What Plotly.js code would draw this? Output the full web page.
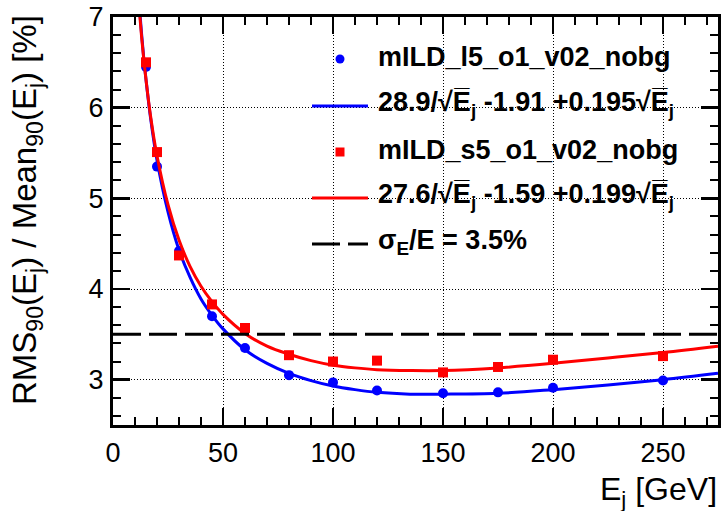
<!DOCTYPE html>
<html>
<head>
<meta charset="utf-8">
<script src="https://cdn.plot.ly/plotly-3.0.1.min.js"></script>
<style>html,body{margin:0;padding:0;background:#fff;}#chart{width:723px;height:511px;}</style>
</head>
<body>
<div id="chart"></div>
<script>
// ---- data ----
const energies = [15, 20, 30, 45, 60, 80, 100, 120, 150, 175, 200, 250];
const resL5 = [6.45, 5.35, 4.42, 3.70, 3.35, 3.05, 2.97, 2.88, 2.85, 2.86, 2.91, 2.99];
const resS5 = [6.50, 5.51, 4.37, 3.83, 3.57, 3.27, 3.20, 3.21, 3.08, 3.14, 3.22, 3.26];

const fitE = [11, 12, 13, 14, 15, 17, 20, 25, 30, 35, 40, 45, 50, 60, 70, 80, 90, 100, 110, 120, 135, 150, 175, 200, 225, 250, 275];
const fitL5 = [7.45, 7.11, 6.81, 6.54, 6.31, 5.90, 5.42, 4.85, 4.43, 4.13, 3.89, 3.71, 3.56, 3.33, 3.18, 3.07, 2.99, 2.93, 2.89, 2.86, 2.84, 2.84, 2.85, 2.89, 2.94, 3.00, 3.07];
const fitS5 = [7.39, 7.07, 6.78, 6.53, 6.31, 5.92, 5.47, 4.93, 4.54, 4.25, 4.03, 3.86, 3.72, 3.51, 3.37, 3.28, 3.21, 3.16, 3.13, 3.11, 3.10, 3.10, 3.13, 3.18, 3.24, 3.30, 3.37];

const refLineE = [0, 275];
const refLineRes = [3.5, 3.5];

const xTicks = [0, 50, 100, 150, 200, 250];
const yTicks = [3, 4, 5, 6, 7];

const SQRT_E = "√E\u0305<sub>j</sub>";
const legendLabels = [
  "mILD_l5_o1_v02_nobg",
  "28.9/" + SQRT_E + " -1.91 +0.195" + SQRT_E,
  "mILD_s5_o1_v02_nobg",
  "27.6/" + SQRT_E + " -1.59 +0.199" + SQRT_E,
  "σ<sub>E</sub>/E = 3.5%"
];

// ---- layout geometry (pixels) ----
const W = 723, H = 511;
const L = 113, R = 718, T = 17, B = 425;
const px = p => (p - L) / (R - L);
const py = p => (B - p) / (B - T);

const BLUE = '#0000ff', RED = '#ff0000';
const FONT = 'Liberation Sans, Arial, Helvetica, sans-serif';

const traces = [
  {x: fitE, y: fitL5, mode: 'lines', line: {color: BLUE, width: 3, shape: 'spline'}, showlegend: false, hoverinfo: 'skip'},
  {x: energies, y: resL5, mode: 'markers', marker: {color: BLUE, size: 10, symbol: 'circle'}, showlegend: false},
  {x: fitE, y: fitS5, mode: 'lines', line: {color: RED, width: 3, shape: 'spline'}, showlegend: false, hoverinfo: 'skip'},
  {x: energies, y: resS5, mode: 'markers', marker: {color: RED, size: 10, symbol: 'square'}, showlegend: false},
  {x: refLineE, y: refLineRes, mode: 'lines', line: {color: 'black', width: 3, dash: '28px,8px'}, showlegend: false}
];

const rowsY = [59, 106, 152, 198, 244];
const symX0 = 312, symX1 = 368, symC = 340, textX = 376;

const shapes = [
  {type: 'circle', xref: 'paper', yref: 'paper', x0: px(symC - 4.5), x1: px(symC + 4.5), y0: py(rowsY[0] + 4.5), y1: py(rowsY[0] - 4.5), fillcolor: BLUE, line: {width: 0}},
  {type: 'line', xref: 'paper', yref: 'paper', x0: px(symX0), x1: px(symX1), y0: py(rowsY[1]), y1: py(rowsY[1]), line: {color: BLUE, width: 3}},
  {type: 'rect', xref: 'paper', yref: 'paper', x0: px(symC - 4.5), x1: px(symC + 4.5), y0: py(rowsY[2] + 4.5), y1: py(rowsY[2] - 4.5), fillcolor: RED, line: {width: 0}},
  {type: 'line', xref: 'paper', yref: 'paper', x0: px(symX0), x1: px(symX1), y0: py(rowsY[3]), y1: py(rowsY[3]), line: {color: RED, width: 3}},
  {type: 'line', xref: 'paper', yref: 'paper', x0: px(symX0), x1: px(symX1), y0: py(rowsY[4]), y1: py(rowsY[4]), line: {color: 'black', width: 3, dash: '28px,8px'}}
];

const annotations = legendLabels.map((t, i) => ({
  text: '<b>' + t + '</b>', xref: 'paper', yref: 'paper', x: px(textX), y: py(rowsY[i] - 2),
  xanchor: 'left', yanchor: 'middle', showarrow: false, font: {family: FONT, size: 27, color: 'black'}
}));

annotations.push({
  text: 'E<sub>j</sub> [GeV]', xref: 'paper', yref: 'paper', x: 1, y: py(470), xanchor: 'right', yanchor: 'top',
  borderpad: 0, showarrow: false, font: {family: FONT, size: 32, color: 'black'}
});
annotations.push({
  text: 'RMS<sub>90</sub>(E<sub>j</sub>) / Mean<sub>90</sub>(E<sub>j</sub>) [%]', xref: 'paper', yref: 'paper',
  x: px(27), y: py(13), xanchor: 'center', yanchor: 'top', textangle: -90,
  showarrow: false, font: {family: FONT, size: 33, color: 'black'}
});

const axisCommon = {
  ticks: 'inside', ticklen: 17, tickwidth: 2.5, tickcolor: 'black',
  showline: true, linewidth: 3, linecolor: 'black', mirror: 'allticks',
  showgrid: true, gridcolor: 'black', gridwidth: 1, griddash: '1px,2px',
  zeroline: false, tickfont: {family: FONT, size: 27, color: 'black'}
};

const layout = {
  width: W, height: H,
  margin: {l: L, r: W - R, t: T, b: H - B, pad: 0},
  paper_bgcolor: 'white', plot_bgcolor: 'white',
  showlegend: false,
  xaxis: Object.assign({}, axisCommon, {
    range: [0, 275], tickmode: 'array', tickvals: xTicks, ticktext: xTicks.map(String),
    minor: {ticks: 'inside', ticklen: 8, tickwidth: 2, tickcolor: 'black', dtick: 10, tick0: 0, showgrid: false},
    ticklabelstandoff: 2
  }),
  yaxis: Object.assign({}, axisCommon, {
    range: [2.5, 7], tickmode: 'array', tickvals: yTicks, ticktext: yTicks.map(String),
    minor: {ticks: 'inside', ticklen: 8, tickwidth: 2, tickcolor: 'black', dtick: 0.2, tick0: 0, showgrid: false},
    ticklabelstandoff: 1
  }),
  shapes: shapes,
  annotations: annotations
};

Plotly.newPlot('chart', traces, layout, {displayModeBar: false, staticPlot: true});
</script>
</body>
</html>
